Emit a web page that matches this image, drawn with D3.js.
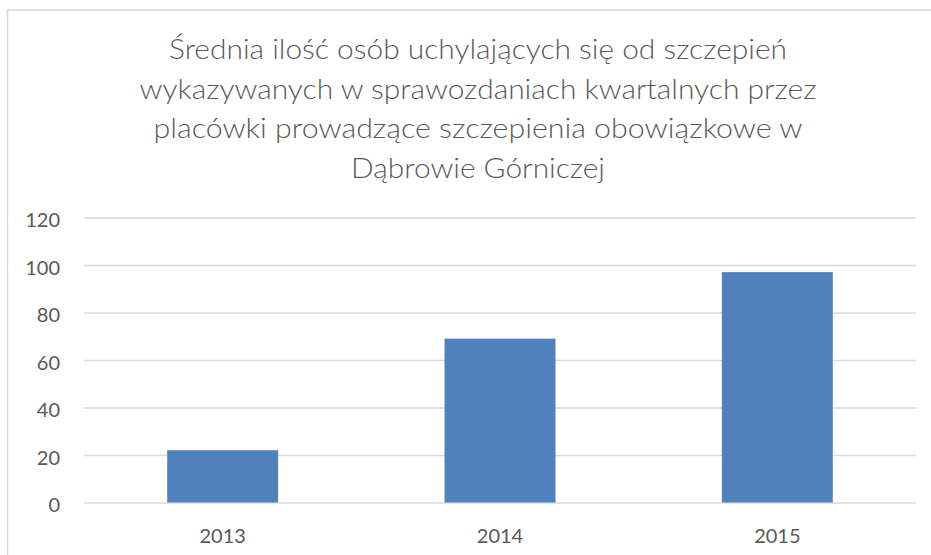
<!DOCTYPE html>
<html>
<head>
<meta charset="utf-8">
<script src="https://cdn.jsdelivr.net/npm/d3@7"></script>
<style>
  html, body { margin: 0; padding: 0; background: #fff; }
  svg { display: block; }
  text { font-family: Lato, "Open Sans", "DejaVu Sans", sans-serif; fill: #595959; }
</style>
</head>
<body>
<svg id="chart" width="931" height="555"></svg>
<script>
// ---- data ----
const titleLines = [
  "Średnia ilość osób uchylających się od szczepień",
  "wykazywanych w sprawozdaniach kwartalnych przez",
  "placówki prowadzące szczepienia obowiązkowe w",
  "Dąbrowie Górniczej"
];
const categories = ["2013", "2014", "2015"];
const values = [22, 69, 97];
const yTicks = [0, 20, 40, 60, 80, 100, 120];

// ---- layout ----
const W = 931, H = 555;
const plot = { left: 84, right: 916, top: 217.5, bottom: 502.5 };
const titleWidths = [618, 677, 649, 254];
const titleCenter = 478, titleFirstBaseline = 59.3, titleLineGap = 39.5;

const svg = d3.select("#chart");

// chart area border
svg.append("rect")
  .attr("x", 7.5).attr("y", 10)
  .attr("width", 1000).attr("height", 1000)
  .attr("fill", "#fff")
  .attr("stroke", "#d9d9d9").attr("stroke-width", 1.5);

// title
svg.append("g").selectAll("text")
  .data(titleLines)
  .join("text")
  .attr("x", titleCenter)
  .attr("y", (d, i) => titleFirstBaseline + i * titleLineGap)
  .attr("text-anchor", "middle")
  .attr("font-size", 26.5)
  .attr("font-weight", 300)
  .attr("textLength", (d, i) => titleWidths[i])
  .attr("lengthAdjust", "spacingAndGlyphs")
  .text(d => d);

// scales
const y = d3.scaleLinear().domain([0, 120]).range([plot.bottom, plot.top]);
const x = d3.scaleBand().domain(categories)
  .range([plot.left, plot.right])
  .paddingInner(0.6).paddingOuter(0.3);

// y axis with gridlines
const yAxis = svg.append("g")
  .attr("transform", `translate(${plot.left},0)`)
  .call(d3.axisLeft(y).tickValues(yTicks)
    .tickSize(-(plot.right - plot.left)).tickPadding(24)
    .tickFormat(d3.format("d")));
yAxis.select(".domain").remove();
yAxis.selectAll(".tick line").attr("stroke", "#d9d9d9").attr("stroke-width", 1.5);
yAxis.selectAll(".tick text")
  .attr("font-size", 20).attr("dy", "0.45em")
  .style("font-family", "Lato, 'Open Sans', sans-serif").attr("fill", "#595959");

// bars
svg.append("g").selectAll("rect")
  .data(values)
  .join("rect")
  .attr("x", (d, i) => x(categories[i]))
  .attr("y", d => y(d))
  .attr("width", x.bandwidth())
  .attr("height", d => y(0) - y(d))
  .attr("fill", "#4f81bd");

// x axis labels
const xAxis = svg.append("g")
  .attr("transform", `translate(0,${plot.bottom})`)
  .call(d3.axisBottom(x).tickSize(0).tickPadding(26));
xAxis.select(".domain").remove();
xAxis.selectAll(".tick text")
  .attr("font-size", 20)
  .style("font-family", "Lato, 'Open Sans', sans-serif").attr("fill", "#595959");
</script>
</body>
</html>
